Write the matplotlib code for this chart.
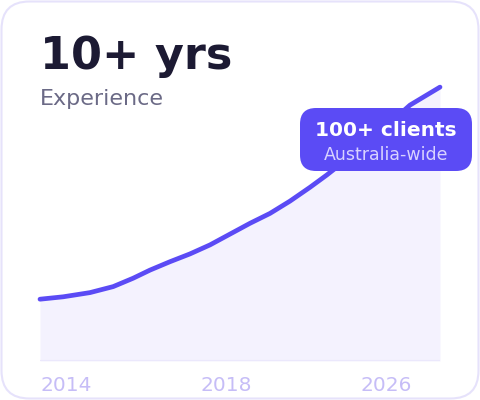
import matplotlib.pyplot as plt
from matplotlib.patches import FancyBboxPatch

# chart data (x = share of the timeline in %, y = growth index)
progress = [0, 5.8, 12.5, 18.3, 23.3, 27.5, 32.5, 37.5, 42.5, 47.5,
            52.5, 57.5, 62.5, 67.5, 71.7, 80, 86.3, 92.5, 100]
growth = [20.6, 21.4, 22.8, 24.8, 27.6, 30.3, 33.1, 35.7, 38.7, 42.3,
          45.9, 49.2, 53.3, 57.9, 62.0, 70.7, 78.0, 85.3, 91.3]
tick_pos = [0, 40, 80]
tick_labels = ['2014', '2018', '2026']

title = '10+ yrs'
subtitle = 'Experience'
badge_title = '100+ clients'
badge_sub = 'Australia-wide'

purple = '#5b4bf5'

fig = plt.figure(figsize=(4.8, 4.0), dpi=100)

# background card, pixel coordinates
bg = fig.add_axes([0, 0, 1, 1])
bg.set_xlim(0, 480)
bg.set_ylim(0, 400)
bg.axis('off')
card = FancyBboxPatch((1.5, 1.5), 477, 397, boxstyle='round,pad=0,rounding_size=28',
                      facecolor='white', edgecolor='#e6e2fb', linewidth=1.5)
bg.add_patch(card)
bg.text(40, 400 - 69, title, fontsize=32, fontweight='bold', color='#1c1a33',
        ha='left', va='baseline')
bg.text(40, 400 - 105, subtitle, fontsize=16, color='#6b6a86', ha='left', va='baseline')
for pos, lab in zip(tick_pos, tick_labels):
    bg.text(40 + pos * 4, 400 - 391, lab, fontsize=14.5, color='#c6bdf7',
            ha='left', va='baseline')

# line chart
ax = fig.add_axes([40 / 480, 39 / 400, 400 / 480, 300 / 400])
ax.set_xlim(0, 100)
ax.set_ylim(0, 100)
ax.patch.set_alpha(0)
ax.axis('off')
ax.fill_between(progress, growth, 0, color='#f4f2fe', linewidth=0)
ax.axhline(0, color='#ebe8fc', linewidth=1.5)
ax.plot(progress, growth, color=purple, linewidth=3.4, solid_capstyle='round',
        solid_joinstyle='round', clip_on=False)

# badge on top
top = fig.add_axes([0, 0, 1, 1])
top.set_xlim(0, 480)
top.set_ylim(0, 400)
top.patch.set_alpha(0)
top.axis('off')
badge = FancyBboxPatch((300, 400 - 171), 172, 63, boxstyle='round,pad=0,rounding_size=16',
                       facecolor=purple, edgecolor='none')
top.add_patch(badge)
top.text(386, 400 - 136, badge_title, fontsize=14.5, fontweight='bold', color='white',
         ha='center', va='baseline')
top.text(386, 400 - 160, badge_sub, fontsize=12.5, color='#d8d2ff',
         ha='center', va='baseline')

fig.savefig('out.png', dpi=100)
